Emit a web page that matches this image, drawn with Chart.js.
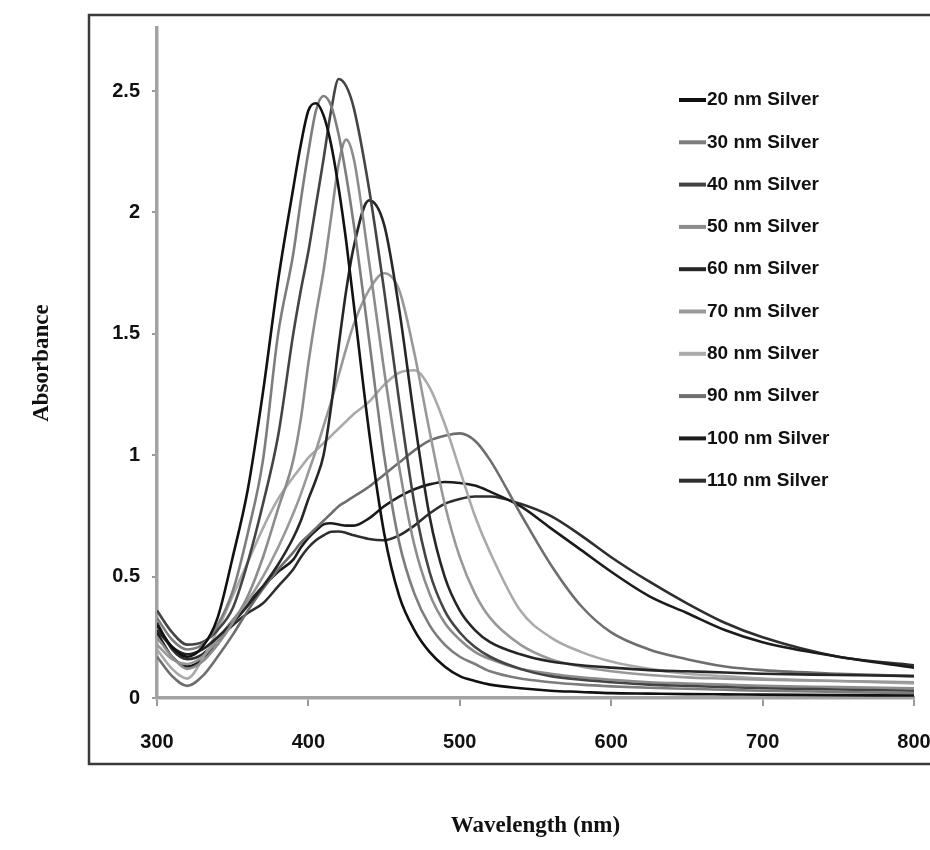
<!DOCTYPE html>
<html>
<head>
<meta charset="utf-8">
<script src="https://cdn.jsdelivr.net/npm/chart.js@4.4.1/dist/chart.umd.min.js"></script>
<style>
  html, body { margin: 0; padding: 0; background: #fff; }
</style>
</head>
<body>
<canvas id="spectra" width="930" height="850"></canvas>
<script>
// UV-Vis spectra of silver nanoparticles, 20 to 110 nm
const wavelengths = [300, 310, 320, 330, 340, 350, 360, 370, 380, 390, 395, 400, 405, 410, 415, 420, 425, 430,
  440, 450, 460, 470, 480, 490, 500, 510, 520, 540, 560, 580, 600, 625, 650, 675, 700, 750, 800];

const silver20 = [0.30, 0.21, 0.17, 0.21, 0.33, 0.58, 0.86, 1.26, 1.72, 2.10, 2.28, 2.42, 2.45, 2.40, 2.28, 2.10, 1.88, 1.62,
  1.10, 0.68, 0.42, 0.28, 0.19, 0.13, 0.09, 0.07, 0.055, 0.04, 0.03, 0.025, 0.02, 0.018, 0.016, 0.015, 0.014, 0.012, 0.01];
const silver30 = [0.33, 0.24, 0.20, 0.22, 0.30, 0.44, 0.68, 0.98, 1.50, 1.83, 2.05, 2.25, 2.42, 2.48, 2.44, 2.32, 2.15, 1.95,
  1.48, 1.00, 0.64, 0.43, 0.30, 0.22, 0.17, 0.14, 0.11, 0.08, 0.065, 0.055, 0.048, 0.042, 0.038, 0.034, 0.03, 0.025, 0.02];
const silver40 = [0.36, 0.27, 0.22, 0.23, 0.28, 0.37, 0.56, 0.80, 1.08, 1.50, 1.68, 1.84, 2.03, 2.22, 2.42, 2.55, 2.52, 2.43,
  2.10, 1.68, 1.22, 0.80, 0.52, 0.36, 0.27, 0.21, 0.17, 0.12, 0.09, 0.075, 0.065, 0.055, 0.05, 0.045, 0.04, 0.035, 0.03];
const silver50 = [0.25, 0.17, 0.12, 0.15, 0.22, 0.31, 0.42, 0.58, 0.78, 0.98, 1.15, 1.38, 1.58, 1.76, 1.98, 2.20, 2.30, 2.22,
  1.80, 1.35, 0.95, 0.63, 0.43, 0.31, 0.24, 0.19, 0.16, 0.12, 0.10, 0.085, 0.075, 0.065, 0.06, 0.055, 0.05, 0.045, 0.04];
const silver60 = [0.28, 0.21, 0.18, 0.20, 0.25, 0.31, 0.38, 0.46, 0.55, 0.66, 0.73, 0.82, 0.90, 1.00, 1.20, 1.45, 1.68, 1.86,
  2.05, 1.95, 1.60, 1.15, 0.75, 0.50, 0.36, 0.28, 0.23, 0.18, 0.15, 0.135, 0.125, 0.115, 0.11, 0.105, 0.10, 0.095, 0.09];
const silver70 = [0.22, 0.16, 0.14, 0.17, 0.24, 0.32, 0.40, 0.50, 0.62, 0.76, 0.84, 0.93, 1.02, 1.12, 1.22, 1.33, 1.44, 1.54,
  1.68, 1.75, 1.68, 1.42, 1.10, 0.80, 0.58, 0.43, 0.33, 0.22, 0.16, 0.13, 0.11, 0.095, 0.085, 0.08, 0.075, 0.07, 0.065];
const silver80 = [0.20, 0.12, 0.08, 0.16, 0.28, 0.42, 0.56, 0.70, 0.82, 0.91, 0.95, 0.99, 1.02, 1.05, 1.08, 1.11, 1.14, 1.17,
  1.22, 1.29, 1.34, 1.35, 1.28, 1.13, 0.94, 0.75, 0.60, 0.36, 0.25, 0.19, 0.15, 0.12, 0.10, 0.09, 0.08, 0.07, 0.06];
const silver90 = [0.17, 0.09, 0.05, 0.09, 0.17, 0.26, 0.36, 0.45, 0.53, 0.60, 0.64, 0.67, 0.70, 0.73, 0.76, 0.79, 0.81, 0.83,
  0.87, 0.92, 0.97, 1.02, 1.06, 1.08, 1.09, 1.06, 0.98, 0.76, 0.55, 0.38, 0.27, 0.20, 0.16, 0.13, 0.115, 0.10, 0.09];
const silver100 = [0.27, 0.17, 0.13, 0.16, 0.24, 0.32, 0.39, 0.46, 0.52, 0.57, 0.62, 0.66, 0.69, 0.715, 0.72, 0.715, 0.71, 0.71,
  0.74, 0.79, 0.83, 0.86, 0.88, 0.89, 0.886, 0.875, 0.85, 0.79, 0.70, 0.61, 0.52, 0.42, 0.35, 0.28, 0.23, 0.17, 0.125];
const silver110 = [0.31, 0.20, 0.16, 0.18, 0.24, 0.30, 0.35, 0.39, 0.46, 0.53, 0.58, 0.62, 0.65, 0.67, 0.685, 0.686, 0.68, 0.67,
  0.655, 0.65, 0.67, 0.71, 0.76, 0.80, 0.82, 0.83, 0.83, 0.80, 0.75, 0.67, 0.58, 0.48, 0.39, 0.31, 0.25, 0.17, 0.135];

const seriesLabels = ["20 nm Silver", "30 nm Silver", "40 nm Silver", "50 nm Silver", "60 nm Silver",
  "70 nm Silver", "80 nm Silver", "90 nm Silver", "100 nm Silver", "110 nm Silver"];
const seriesValues = [silver20, silver30, silver40, silver50, silver60, silver70, silver80, silver90, silver100, silver110];
const seriesColors = ["#111111", "#7d7d7d", "#444444", "#8c8c8c", "#262626", "#999999", "#aaaaaa", "#6e6e6e", "#1c1c1c", "#2e2e2e"];

const xTicks = [300, 400, 500, 600, 700, 800];
const yTicks = [0, 0.5, 1, 1.5, 2, 2.5];

const sansFont = "'Liberation Sans', Arial, sans-serif";
const serifFont = "'Liberation Serif', 'DejaVu Serif', serif";

const datasets = seriesValues.map(function(values, i) {
  return {
    label: seriesLabels[i],
    data: values.map(function(v, j) { return { x: wavelengths[j], y: v }; }),
    borderColor: seriesColors[i],
    backgroundColor: seriesColors[i],
    borderWidth: 2.6,
    pointRadius: 0,
    cubicInterpolationMode: "monotone",
    fill: false
  };
});

// white page + scanned frame
const framePlugin = {
  id: "frame",
  beforeDraw(chart) {
    const c = chart.ctx;
    c.save();
    c.fillStyle = "#ffffff";
    c.fillRect(0, 0, chart.width, chart.height);
    c.strokeStyle = "#3a3a3a";
    c.lineWidth = 2.5;
    c.strokeRect(89, 15, 850, 749);
    c.restore();
  }
};

// legend drawn inside the plot, top right
const legendPlugin = {
  id: "insideLegend",
  afterDraw(chart) {
    const c = chart.ctx;
    c.save();
    c.font = "bold 19px " + sansFont;
    c.textBaseline = "middle";
    c.textAlign = "left";
    chart.data.datasets.forEach(function(ds, i) {
      const y = 100 + i * 42.3;
      c.strokeStyle = ds.borderColor;
      c.lineWidth = 4;
      c.beginPath();
      c.moveTo(679, y);
      c.lineTo(706, y);
      c.stroke();
      c.fillStyle = "#111111";
      c.fillText(ds.label, 707, y);
    });
    c.restore();
  }
};

const tickFont = { family: sansFont, size: 20, weight: "bold" };
const titleFont = { family: serifFont, size: 23, weight: "bold" };

new Chart(document.getElementById("spectra").getContext("2d"), {
  type: "line",
  data: { datasets: datasets },
  options: {
    responsive: false,
    animation: false,
    layout: { padding: { left: 10, top: 28, right: 16, bottom: 10 } },
    plugins: {
      legend: { display: false },
      tooltip: { enabled: false }
    },
    scales: {
      x: {
        type: "linear",
        min: 300,
        max: 800,
        afterBuildTicks: function(axis) { axis.ticks = xTicks.map(function(v) { return { value: v }; }); },
        afterFit: function(axis) {
          axis.height = 850 - 698 - 10;
          axis.paddingLeft = 0;
          axis.paddingRight = 0;
        },
        ticks: { padding: 24, color: "#111111", font: tickFont, callback: function(v) { return String(v); } },
        grid: { drawOnChartArea: false, drawTicks: true, tickLength: 8, color: "#9a9a9a", lineWidth: 2 },
        border: { color: "#a3a3a3", width: 3.5 },
        title: { display: true, text: "Wavelength (nm)", color: "#111111", font: titleFont, padding: { top: 0, bottom: 0 } }
      },
      y: {
        min: 0,
        max: 2.76,
        afterBuildTicks: function(axis) { axis.ticks = yTicks.map(function(v) { return { value: v }; }); },
        afterFit: function(axis) {
          axis.width = 157 - 10;
          axis.paddingTop = 0;
          axis.paddingBottom = 0;
        },
        ticks: { padding: 12, color: "#111111", font: tickFont, callback: function(v) { return String(v); } },
        grid: { drawOnChartArea: false, drawTicks: true, tickLength: 5, color: "#9a9a9a", lineWidth: 2 },
        border: { color: "#a3a3a3", width: 3.5 },
        title: { display: true, text: "Absorbance", color: "#111111", font: titleFont, padding: { top: 18, bottom: 0 } }
      }
    }
  },
  plugins: [framePlugin, legendPlugin]
});
</script>
</body>
</html>
